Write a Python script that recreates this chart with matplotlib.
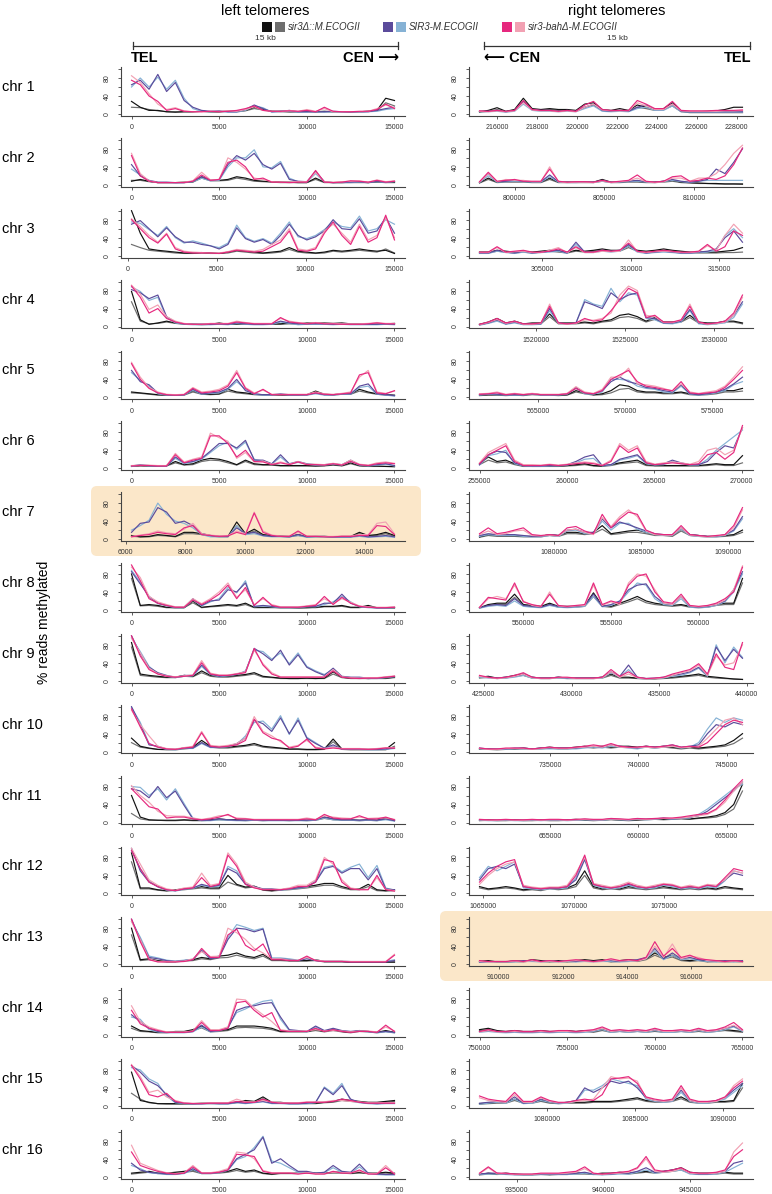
import matplotlib
matplotlib.use('Agg')
import matplotlib.pyplot as plt
from matplotlib.patches import FancyBboxPatch, Rectangle
from matplotlib.ticker import MultipleLocator
import numpy as np

# ---- data -------------------------------------------------------------
# each panel: [sir3D rep1, sir3D rep2, SIR3 rep1, SIR3 rep2, bahD rep1, bahD rep2]
chroms = ['chr %d' % i for i in range(1, 17)]

L_start = [0, 0, 200, 0, 0, 0, 6200, 0, 0, 0, 0, 0, 0, 0, 0, 0]
L_end = [15000] * 16
L_step = [5000, 5000, 5000, 5000, 5000, 5000, 2000, 5000, 5000, 5000, 5000, 5000, 5000, 5000, 5000, 5000]

R_start = [215100, 798050, 301450, 1516800, 561650, 255000, 1075700, 547500,
           424750, 731000, 651000, 1064800, 909400, 750000, 1076150, 932850]
R_end = [228300, 812700, 316300, 1531600, 576750, 270050, 1090800, 562500,
         439750, 745900, 665900, 1079300, 917600, 765000, 1091100, 948000]
R_step = [2000, 5000, 5000, 5000, 5000, 5000, 5000, 5000, 5000, 5000, 5000, 5000, 2000, 5000, 5000, 5000]

L1 = [[28, 15, 8, 8, 5, 4, 5, 5, 6, 5, 5, 6, 6, 8, 15, 10, 6, 6, 5, 5, 6, 5, 6, 5, 5, 4, 5, 6, 8, 35, 30],
      [15, 14, 10, 7, 5, 5, 5, 5, 6, 5, 5, 6, 5, 7, 12, 9, 6, 5, 5, 5, 5, 5, 5, 5, 5, 4, 5, 6, 7, 25, 18],
      [65, 75, 55, 88, 50, 70, 30, 15, 8, 6, 7, 5, 5, 10, 20, 12, 5, 6, 8, 5, 5, 5, 5, 6, 5, 4, 5, 5, 8, 12, 15],
      [60, 80, 60, 82, 55, 75, 35, 12, 6, 5, 6, 4, 4, 8, 18, 14, 4, 5, 6, 4, 4, 5, 4, 5, 4, 4, 4, 5, 6, 10, 12],
      [75, 65, 40, 28, 8, 12, 6, 5, 5, 6, 5, 6, 8, 12, 18, 8, 6, 6, 7, 6, 8, 5, 15, 6, 5, 5, 6, 6, 10, 22, 12],
      [85, 70, 45, 22, 10, 14, 7, 5, 5, 6, 6, 7, 6, 10, 16, 8, 6, 5, 8, 6, 10, 6, 12, 5, 5, 5, 5, 6, 12, 20, 14]]
L2 = [[8, 12, 8, 5, 5, 5, 6, 7, 18, 10, 10, 12, 18, 15, 10, 8, 7, 6, 6, 5, 5, 15, 6, 5, 5, 6, 6, 5, 7, 6, 6],
      [10, 10, 7, 5, 5, 5, 5, 6, 15, 9, 9, 10, 15, 12, 8, 7, 6, 5, 5, 5, 5, 12, 5, 5, 5, 5, 5, 5, 6, 5, 5],
      [45, 20, 10, 6, 6, 5, 5, 8, 18, 10, 12, 45, 65, 55, 70, 45, 35, 48, 12, 8, 7, 30, 7, 5, 6, 6, 7, 5, 8, 6, 8],
      [35, 22, 8, 5, 5, 4, 5, 7, 15, 9, 10, 40, 60, 60, 78, 40, 38, 52, 15, 7, 6, 25, 6, 5, 5, 5, 6, 5, 7, 5, 7],
      [65, 20, 8, 5, 5, 5, 5, 8, 22, 10, 12, 50, 55, 40, 12, 15, 6, 6, 5, 6, 6, 32, 6, 5, 6, 9, 8, 6, 10, 6, 8],
      [70, 25, 9, 5, 5, 5, 6, 9, 28, 11, 12, 60, 50, 35, 15, 12, 7, 6, 6, 7, 7, 28, 7, 6, 7, 8, 9, 6, 11, 7, 9]]
L3 = [[100, 50, 15, 12, 10, 8, 6, 6, 7, 6, 5, 8, 12, 10, 8, 6, 8, 10, 18, 10, 8, 6, 8, 12, 10, 12, 15, 12, 10, 12, 5],
      [25, 18, 12, 10, 8, 6, 5, 5, 6, 5, 5, 6, 10, 8, 6, 5, 6, 8, 14, 8, 6, 5, 6, 10, 8, 10, 12, 10, 8, 15, 6],
      [70, 78, 60, 42, 62, 42, 30, 30, 25, 22, 15, 25, 62, 38, 30, 36, 25, 45, 70, 45, 35, 42, 55, 80, 60, 58, 82, 50, 55, 85, 50],
      [75, 72, 58, 45, 65, 40, 28, 33, 28, 22, 18, 28, 68, 40, 32, 38, 28, 50, 75, 42, 38, 45, 58, 75, 65, 62, 88, 55, 60, 80, 70],
      [80, 60, 40, 28, 48, 15, 8, 6, 6, 6, 5, 8, 12, 10, 8, 10, 20, 30, 55, 12, 10, 15, 50, 75, 45, 25, 65, 30, 40, 90, 35],
      [82, 65, 45, 30, 50, 18, 10, 8, 7, 6, 6, 9, 14, 12, 10, 14, 25, 35, 60, 15, 12, 18, 55, 70, 50, 30, 70, 35, 45, 85, 40]]
L4 = [[78, 15, 5, 8, 12, 8, 6, 5, 5, 5, 8, 5, 6, 6, 5, 5, 6, 6, 8, 6, 8, 8, 8, 7, 8, 6, 6, 5, 5, 6, 7],
      [55, 12, 6, 7, 10, 7, 5, 5, 4, 5, 6, 5, 5, 5, 5, 5, 5, 5, 6, 5, 6, 7, 6, 6, 6, 5, 5, 5, 5, 5, 6],
      [82, 75, 62, 70, 22, 10, 6, 5, 5, 5, 6, 5, 8, 6, 5, 5, 6, 12, 8, 6, 6, 6, 6, 5, 6, 5, 5, 5, 5, 6, 5],
      [88, 78, 58, 65, 20, 8, 5, 4, 4, 4, 5, 4, 7, 5, 4, 4, 5, 10, 7, 4, 5, 5, 5, 4, 5, 4, 4, 4, 4, 5, 4],
      [90, 65, 30, 40, 18, 10, 6, 5, 5, 6, 6, 6, 10, 8, 6, 6, 6, 20, 10, 8, 6, 8, 6, 6, 5, 5, 5, 6, 8, 6, 6],
      [92, 72, 38, 48, 22, 12, 7, 5, 5, 7, 7, 7, 12, 9, 7, 7, 7, 18, 12, 9, 7, 9, 7, 7, 6, 6, 6, 7, 9, 7, 7]]
L5 = [[12, 10, 8, 6, 5, 5, 6, 15, 8, 7, 8, 18, 12, 10, 7, 6, 6, 6, 5, 5, 6, 14, 7, 6, 8, 8, 18, 12, 8, 6, 5],
      [10, 9, 7, 5, 5, 5, 5, 12, 7, 6, 7, 14, 10, 8, 6, 5, 5, 5, 5, 5, 5, 10, 6, 5, 7, 7, 14, 10, 7, 5, 4],
      [60, 35, 28, 10, 6, 5, 6, 18, 8, 10, 12, 20, 40, 15, 8, 6, 6, 8, 6, 6, 6, 10, 6, 6, 8, 8, 25, 30, 8, 6, 4],
      [55, 38, 25, 8, 5, 5, 5, 16, 7, 9, 10, 18, 35, 18, 7, 5, 5, 7, 5, 5, 5, 8, 5, 5, 7, 7, 22, 25, 7, 5, 3],
      [75, 40, 20, 10, 6, 5, 6, 20, 10, 12, 15, 25, 55, 20, 8, 18, 6, 6, 6, 6, 6, 10, 7, 6, 8, 10, 50, 55, 10, 8, 15],
      [78, 45, 22, 12, 7, 6, 7, 22, 12, 14, 18, 28, 60, 22, 10, 16, 7, 7, 7, 7, 7, 12, 8, 7, 9, 12, 45, 60, 12, 9, 14]]
L6 = [[5, 6, 5, 5, 6, 15, 8, 10, 18, 22, 20, 15, 8, 18, 10, 8, 8, 6, 6, 6, 6, 5, 6, 8, 6, 12, 6, 5, 5, 4, 4],
      [4, 5, 5, 5, 5, 12, 7, 8, 15, 18, 17, 12, 7, 15, 8, 7, 7, 5, 5, 5, 5, 5, 5, 7, 5, 10, 5, 4, 4, 4, 3],
      [5, 8, 6, 5, 5, 25, 12, 15, 22, 38, 55, 55, 45, 62, 18, 18, 10, 30, 10, 15, 10, 8, 8, 10, 8, 18, 8, 6, 8, 10, 6],
      [4, 7, 5, 5, 5, 22, 10, 14, 20, 35, 50, 58, 42, 58, 20, 16, 9, 25, 9, 13, 9, 7, 7, 9, 7, 15, 7, 5, 7, 9, 5],
      [5, 6, 6, 5, 5, 30, 12, 18, 22, 72, 72, 55, 25, 40, 15, 14, 8, 12, 8, 14, 8, 8, 7, 10, 7, 15, 8, 6, 10, 12, 10],
      [6, 7, 7, 6, 6, 33, 14, 20, 25, 78, 68, 60, 22, 35, 14, 16, 9, 14, 9, 15, 9, 9, 8, 11, 8, 18, 9, 7, 12, 14, 11]]
L7 = [[8, 5, 6, 10, 8, 6, 15, 15, 12, 8, 6, 6, 38, 12, 22, 10, 8, 7, 6, 10, 6, 6, 6, 5, 6, 6, 15, 8, 10, 15, 8],
      [6, 5, 5, 8, 7, 5, 12, 12, 10, 7, 5, 5, 30, 10, 18, 8, 7, 6, 5, 8, 5, 5, 5, 4, 5, 5, 12, 7, 8, 12, 6],
      [15, 35, 38, 70, 60, 35, 40, 30, 12, 8, 6, 6, 25, 12, 15, 8, 6, 6, 5, 10, 5, 6, 6, 5, 5, 5, 8, 5, 6, 8, 5],
      [20, 30, 42, 80, 55, 40, 35, 25, 10, 5, 5, 5, 30, 10, 12, 7, 5, 5, 5, 8, 4, 5, 5, 4, 4, 4, 6, 4, 5, 6, 4],
      [5, 8, 10, 15, 12, 10, 25, 30, 10, 8, 6, 7, 15, 10, 58, 15, 8, 6, 6, 18, 6, 6, 5, 5, 6, 6, 8, 8, 30, 28, 10],
      [6, 9, 12, 18, 14, 12, 22, 35, 12, 9, 7, 8, 18, 12, 60, 18, 9, 7, 7, 15, 7, 7, 6, 6, 7, 7, 10, 10, 35, 38, 12]]
L8 = [[80, 10, 12, 10, 6, 5, 5, 20, 6, 8, 10, 12, 10, 15, 6, 6, 6, 5, 5, 5, 5, 6, 8, 8, 10, 6, 6, 10, 5, 5, 5],
      [70, 9, 10, 8, 5, 5, 5, 16, 5, 7, 8, 10, 8, 12, 5, 5, 5, 5, 5, 4, 5, 5, 7, 7, 8, 5, 5, 8, 4, 4, 4],
      [85, 58, 30, 15, 10, 6, 6, 25, 10, 20, 22, 45, 40, 60, 8, 10, 8, 6, 6, 6, 8, 8, 15, 15, 35, 15, 8, 6, 5, 5, 6],
      [88, 62, 28, 14, 9, 5, 5, 22, 9, 18, 25, 50, 38, 65, 7, 9, 7, 5, 5, 5, 7, 7, 12, 18, 30, 18, 7, 5, 4, 4, 5],
      [100, 65, 25, 15, 10, 6, 6, 22, 12, 22, 35, 55, 25, 50, 10, 28, 10, 6, 6, 6, 8, 10, 30, 12, 28, 15, 8, 6, 5, 5, 6],
      [95, 72, 30, 18, 12, 7, 7, 25, 14, 25, 40, 60, 28, 45, 12, 25, 12, 7, 7, 7, 9, 12, 25, 14, 25, 17, 9, 7, 6, 6, 7]]
L9 = [[85, 15, 12, 10, 8, 8, 12, 10, 22, 12, 10, 10, 12, 14, 18, 10, 8, 6, 5, 5, 6, 5, 6, 20, 8, 6, 6, 5, 6, 6, 8],
      [75, 12, 10, 8, 7, 7, 10, 9, 18, 10, 8, 8, 10, 12, 15, 8, 7, 5, 5, 5, 5, 5, 5, 15, 7, 5, 5, 5, 5, 5, 7],
      [100, 60, 30, 18, 12, 8, 12, 12, 35, 15, 10, 12, 15, 20, 72, 60, 45, 68, 35, 58, 30, 20, 12, 28, 10, 8, 8, 6, 6, 8, 10],
      [95, 65, 32, 16, 10, 7, 10, 11, 32, 14, 9, 11, 14, 22, 68, 65, 48, 62, 38, 62, 32, 22, 14, 25, 9, 7, 7, 5, 5, 7, 9],
      [100, 55, 25, 15, 10, 8, 10, 12, 40, 15, 12, 12, 15, 18, 72, 35, 15, 8, 8, 8, 8, 8, 8, 22, 8, 6, 5, 6, 6, 8, 10],
      [95, 62, 28, 16, 11, 9, 11, 13, 45, 17, 13, 13, 16, 20, 68, 38, 18, 9, 9, 9, 9, 9, 9, 25, 9, 7, 6, 7, 7, 9, 11]]
L10 = [[30, 12, 8, 5, 5, 5, 8, 10, 25, 12, 10, 10, 12, 14, 18, 12, 10, 8, 6, 6, 5, 5, 6, 28, 6, 5, 5, 5, 5, 5, 20],
       [20, 10, 7, 5, 4, 4, 6, 8, 20, 10, 8, 8, 10, 12, 15, 10, 8, 7, 5, 5, 4, 4, 5, 22, 5, 4, 4, 4, 4, 4, 12],
       [100, 60, 15, 12, 6, 5, 8, 8, 20, 10, 10, 12, 18, 30, 70, 62, 45, 75, 40, 70, 30, 18, 8, 15, 6, 6, 6, 5, 5, 6, 8],
       [98, 65, 18, 10, 5, 4, 7, 7, 18, 9, 9, 11, 16, 35, 65, 68, 50, 80, 38, 75, 32, 20, 7, 12, 5, 5, 5, 4, 4, 5, 7],
       [95, 55, 18, 10, 6, 5, 8, 10, 42, 12, 10, 12, 15, 25, 72, 42, 30, 25, 8, 12, 28, 8, 6, 8, 6, 6, 6, 5, 6, 8, 8],
       [92, 60, 35, 12, 7, 6, 9, 12, 45, 14, 12, 14, 18, 30, 78, 45, 35, 22, 10, 14, 25, 10, 7, 10, 7, 7, 7, 6, 7, 9, 9]]
L11 = [[60, 12, 6, 5, 5, 5, 6, 5, 5, 6, 8, 6, 6, 5, 6, 5, 6, 6, 5, 6, 5, 6, 12, 8, 6, 6, 5, 6, 5, 10, 5],
       [20, 8, 5, 5, 4, 4, 5, 4, 4, 5, 6, 5, 5, 4, 5, 4, 5, 5, 4, 5, 4, 5, 9, 6, 5, 5, 4, 5, 4, 8, 4],
       [75, 70, 55, 80, 55, 70, 38, 8, 5, 5, 8, 6, 5, 5, 6, 5, 5, 5, 5, 5, 5, 6, 12, 8, 6, 6, 5, 6, 5, 8, 4],
       [80, 78, 60, 75, 50, 75, 42, 10, 4, 4, 6, 5, 4, 4, 5, 4, 4, 4, 4, 4, 4, 5, 10, 6, 5, 5, 4, 5, 4, 6, 3],
       [75, 55, 35, 30, 10, 12, 12, 8, 6, 8, 12, 18, 8, 8, 6, 6, 6, 6, 6, 6, 8, 6, 18, 10, 8, 8, 15, 8, 8, 12, 6],
       [82, 60, 45, 25, 15, 14, 14, 10, 7, 10, 15, 16, 10, 9, 7, 7, 7, 7, 7, 7, 10, 7, 15, 12, 10, 9, 12, 9, 10, 10, 7]]
L12 = [[90, 12, 12, 8, 6, 8, 10, 12, 15, 12, 12, 40, 20, 14, 16, 8, 6, 8, 10, 12, 15, 18, 22, 22, 15, 10, 10, 20, 8, 6, 8],
       [70, 10, 10, 7, 5, 7, 8, 10, 12, 10, 10, 25, 18, 12, 14, 7, 5, 7, 8, 10, 12, 15, 18, 18, 12, 8, 8, 15, 6, 5, 6],
       [100, 50, 25, 15, 8, 6, 10, 12, 20, 15, 18, 55, 45, 20, 15, 10, 10, 8, 10, 12, 15, 25, 55, 60, 45, 55, 55, 30, 55, 10, 8],
       [95, 55, 28, 14, 7, 5, 9, 11, 18, 14, 16, 60, 50, 22, 14, 9, 9, 7, 9, 11, 14, 28, 58, 62, 48, 58, 65, 35, 62, 12, 7],
       [95, 55, 25, 15, 8, 6, 10, 12, 35, 15, 20, 85, 60, 20, 12, 8, 8, 8, 10, 15, 15, 25, 75, 70, 25, 10, 8, 8, 40, 8, 5],
       [100, 65, 30, 18, 10, 7, 12, 14, 45, 18, 22, 90, 65, 25, 14, 9, 9, 9, 12, 18, 18, 30, 80, 65, 30, 12, 9, 9, 35, 9, 6]]
L13 = [[80, 10, 12, 8, 6, 6, 8, 10, 15, 12, 18, 20, 25, 18, 15, 22, 10, 10, 8, 8, 8, 10, 6, 6, 6, 5, 5, 5, 5, 5, 5],
       [65, 8, 10, 7, 5, 5, 7, 8, 12, 10, 14, 15, 20, 15, 12, 18, 8, 8, 7, 7, 7, 8, 5, 5, 5, 4, 4, 4, 4, 4, 4],
       [100, 55, 15, 12, 8, 6, 8, 10, 30, 12, 15, 55, 80, 78, 72, 78, 12, 12, 10, 8, 12, 8, 6, 6, 6, 5, 5, 5, 5, 5, 8],
       [95, 60, 18, 14, 9, 7, 9, 11, 32, 14, 18, 60, 88, 82, 75, 80, 14, 14, 12, 9, 14, 9, 7, 7, 7, 6, 6, 6, 6, 6, 10],
       [100, 50, 10, 5, 5, 5, 6, 10, 35, 15, 15, 65, 78, 42, 30, 45, 10, 10, 8, 8, 18, 8, 6, 6, 6, 5, 5, 5, 5, 5, 20],
       [95, 55, 12, 6, 6, 6, 7, 12, 28, 17, 18, 80, 70, 55, 35, 25, 12, 12, 9, 9, 15, 9, 7, 7, 7, 6, 6, 6, 6, 6, 22]]
L14 = [[20, 10, 8, 6, 6, 8, 8, 12, 20, 8, 10, 12, 20, 20, 20, 18, 15, 8, 8, 8, 8, 12, 8, 12, 8, 6, 10, 8, 6, 10, 6],
       [15, 8, 7, 5, 5, 7, 7, 10, 16, 7, 8, 10, 16, 17, 16, 15, 12, 7, 7, 7, 7, 10, 7, 10, 7, 5, 8, 7, 5, 8, 5],
       [45, 30, 15, 8, 6, 6, 6, 8, 22, 8, 10, 15, 55, 62, 65, 70, 72, 40, 12, 10, 8, 20, 10, 15, 10, 8, 10, 8, 6, 8, 6],
       [40, 35, 12, 7, 5, 5, 5, 7, 18, 7, 9, 18, 50, 58, 68, 75, 78, 35, 10, 9, 7, 18, 9, 12, 9, 7, 9, 7, 5, 7, 5],
       [55, 25, 15, 10, 6, 6, 6, 8, 28, 10, 10, 15, 72, 75, 55, 40, 50, 10, 8, 8, 8, 15, 8, 12, 8, 6, 8, 8, 6, 22, 8],
       [65, 30, 18, 12, 7, 7, 7, 9, 32, 12, 12, 18, 80, 78, 60, 45, 30, 12, 9, 9, 9, 12, 9, 10, 9, 7, 9, 9, 7, 18, 9]]
L15 = [[75, 12, 8, 5, 5, 5, 5, 5, 6, 6, 6, 6, 8, 12, 10, 20, 8, 8, 6, 6, 6, 6, 8, 10, 15, 12, 10, 8, 8, 10, 12],
       [28, 15, 7, 5, 4, 4, 4, 4, 5, 5, 5, 5, 7, 10, 8, 16, 7, 7, 5, 5, 5, 5, 7, 8, 12, 10, 8, 7, 7, 8, 10],
       [90, 75, 55, 45, 25, 8, 6, 5, 5, 6, 5, 5, 8, 6, 8, 10, 6, 6, 5, 5, 6, 8, 40, 25, 45, 15, 8, 6, 5, 6, 6],
       [85, 80, 60, 50, 22, 7, 5, 4, 4, 5, 4, 4, 7, 5, 7, 9, 5, 5, 4, 4, 5, 7, 42, 28, 50, 12, 7, 5, 4, 5, 5],
       [90, 60, 25, 20, 28, 10, 6, 5, 5, 6, 6, 6, 10, 8, 8, 15, 8, 6, 6, 6, 8, 8, 8, 10, 15, 12, 8, 6, 6, 6, 6],
       [92, 65, 30, 35, 20, 12, 7, 6, 6, 7, 7, 7, 15, 9, 9, 12, 9, 7, 7, 7, 9, 9, 9, 12, 12, 10, 9, 7, 7, 7, 7]]
L16 = [[8, 10, 12, 8, 8, 10, 12, 15, 8, 8, 10, 12, 18, 12, 15, 8, 6, 8, 8, 8, 10, 8, 8, 10, 10, 8, 10, 8, 8, 10, 8],
       [6, 8, 10, 7, 7, 8, 10, 12, 7, 7, 8, 10, 14, 10, 12, 7, 5, 7, 7, 7, 8, 7, 7, 8, 8, 7, 8, 7, 7, 8, 7],
       [30, 15, 10, 8, 6, 6, 8, 18, 8, 8, 10, 15, 40, 50, 60, 88, 30, 40, 25, 12, 12, 8, 10, 25, 12, 10, 28, 8, 6, 5, 5],
       [25, 18, 9, 7, 5, 5, 7, 16, 7, 7, 9, 14, 38, 45, 65, 90, 35, 30, 20, 10, 10, 7, 9, 20, 10, 8, 22, 7, 5, 4, 4],
       [55, 25, 18, 12, 8, 6, 8, 22, 8, 8, 10, 15, 50, 48, 45, 12, 8, 8, 8, 6, 8, 6, 6, 12, 8, 8, 15, 6, 6, 20, 6],
       [70, 30, 22, 14, 9, 7, 9, 25, 9, 9, 12, 18, 55, 52, 40, 14, 9, 9, 9, 7, 9, 7, 7, 10, 9, 9, 12, 7, 7, 25, 7]]

R1 = [[5, 8, 14, 6, 10, 35, 12, 10, 12, 10, 10, 8, 22, 25, 10, 8, 12, 8, 20, 15, 10, 12, 25, 6, 5, 5, 6, 7, 10, 15, 15],
      [4, 6, 10, 5, 8, 28, 10, 8, 10, 8, 8, 6, 15, 20, 8, 6, 8, 6, 15, 12, 8, 10, 18, 5, 3, 3, 3, 3, 3, 3, 3],
      [6, 6, 8, 5, 8, 28, 10, 8, 8, 6, 8, 6, 15, 22, 8, 6, 8, 6, 15, 20, 10, 10, 22, 6, 5, 5, 5, 5, 5, 5, 5],
      [5, 5, 6, 4, 6, 22, 8, 6, 6, 5, 6, 5, 12, 18, 6, 5, 6, 5, 12, 15, 8, 8, 18, 5, 4, 4, 4, 4, 4, 4, 4],
      [7, 6, 8, 6, 8, 30, 10, 8, 8, 6, 8, 6, 20, 28, 10, 8, 8, 8, 30, 22, 12, 12, 28, 8, 7, 7, 7, 8, 8, 8, 9],
      [6, 5, 7, 5, 7, 25, 9, 7, 7, 5, 7, 5, 15, 22, 9, 7, 7, 7, 25, 18, 10, 10, 22, 7, 6, 6, 6, 6, 7, 7, 8]]
R2 = [[5, 15, 6, 8, 8, 8, 6, 6, 15, 6, 6, 6, 6, 6, 12, 6, 6, 8, 8, 6, 6, 8, 10, 6, 5, 4, 3, 3, 2, 2, 2],
      [4, 12, 5, 6, 6, 6, 5, 5, 12, 5, 5, 5, 5, 5, 8, 5, 5, 6, 6, 5, 5, 6, 8, 5, 4, 3, 3, 2, 2, 2, 1],
      [6, 25, 7, 8, 10, 8, 7, 7, 22, 7, 6, 6, 7, 6, 10, 6, 7, 8, 10, 7, 6, 8, 12, 8, 6, 8, 12, 35, 25, 50, 80],
      [5, 20, 6, 7, 8, 7, 6, 6, 18, 6, 5, 5, 6, 5, 8, 5, 6, 7, 8, 6, 5, 7, 10, 7, 5, 8, 10, 10, 10, 10, 10],
      [7, 28, 8, 10, 12, 8, 8, 8, 35, 8, 6, 7, 7, 6, 10, 6, 8, 10, 22, 8, 6, 8, 18, 20, 8, 10, 15, 12, 20, 45, 82],
      [6, 25, 7, 12, 10, 10, 7, 7, 40, 7, 5, 6, 6, 5, 9, 5, 7, 9, 15, 7, 5, 7, 15, 15, 8, 15, 15, 25, 45, 70, 88]]
R3 = [[8, 8, 12, 10, 8, 10, 8, 10, 12, 10, 8, 12, 10, 12, 15, 12, 12, 22, 12, 10, 12, 15, 12, 10, 8, 8, 8, 8, 10, 12, 18],
      [6, 6, 10, 8, 6, 8, 6, 8, 10, 8, 6, 10, 8, 10, 12, 10, 10, 18, 10, 8, 10, 12, 10, 8, 6, 6, 6, 6, 7, 7, 8],
      [6, 6, 12, 8, 6, 10, 6, 8, 10, 12, 6, 30, 8, 8, 12, 10, 12, 25, 10, 6, 8, 10, 8, 6, 6, 8, 10, 15, 40, 55, 30],
      [5, 5, 10, 7, 5, 8, 5, 7, 8, 10, 5, 25, 7, 7, 10, 8, 10, 22, 8, 5, 7, 8, 7, 5, 5, 7, 8, 12, 45, 60, 40],
      [8, 8, 20, 8, 10, 12, 8, 8, 10, 15, 8, 20, 8, 8, 12, 10, 12, 28, 10, 8, 10, 12, 10, 8, 8, 10, 25, 10, 20, 55, 45],
      [7, 7, 18, 7, 9, 10, 7, 7, 12, 18, 7, 18, 7, 7, 10, 9, 10, 35, 9, 7, 9, 10, 9, 7, 7, 9, 22, 12, 45, 70, 50]]
R4 = [[5, 10, 18, 8, 12, 6, 8, 8, 28, 8, 8, 8, 10, 8, 12, 15, 25, 28, 22, 12, 20, 10, 10, 12, 25, 10, 8, 8, 12, 12, 8],
      [4, 8, 14, 6, 10, 5, 6, 6, 22, 6, 6, 6, 8, 6, 10, 12, 20, 22, 18, 10, 16, 8, 8, 10, 20, 8, 6, 6, 10, 10, 6],
      [4, 8, 15, 6, 10, 5, 5, 6, 40, 8, 6, 8, 55, 48, 40, 75, 60, 70, 75, 20, 18, 8, 8, 12, 38, 8, 5, 8, 10, 25, 55],
      [3, 7, 12, 5, 8, 4, 4, 5, 35, 7, 5, 7, 60, 50, 45, 85, 55, 75, 70, 18, 15, 7, 6, 10, 35, 6, 4, 6, 8, 20, 50],
      [5, 10, 18, 8, 12, 6, 6, 8, 45, 8, 6, 8, 18, 12, 15, 35, 60, 85, 75, 20, 25, 10, 10, 15, 45, 10, 6, 8, 12, 30, 70],
      [4, 9, 16, 7, 11, 5, 5, 7, 50, 7, 5, 7, 15, 14, 18, 30, 70, 90, 80, 25, 22, 9, 9, 14, 50, 9, 5, 7, 10, 25, 65]]
R5 = [[5, 6, 6, 5, 6, 5, 8, 6, 6, 5, 6, 15, 10, 6, 8, 15, 28, 25, 15, 12, 12, 10, 10, 12, 8, 6, 8, 10, 15, 15, 20],
      [4, 5, 5, 4, 5, 4, 6, 5, 5, 4, 5, 12, 8, 5, 6, 10, 18, 20, 12, 10, 10, 8, 8, 10, 6, 5, 6, 8, 12, 12, 14],
      [6, 8, 7, 6, 6, 6, 8, 6, 6, 6, 8, 22, 10, 8, 15, 35, 45, 35, 30, 22, 20, 15, 12, 28, 8, 6, 8, 12, 18, 30, 45],
      [5, 7, 6, 5, 5, 5, 7, 5, 5, 5, 7, 20, 8, 7, 12, 40, 40, 38, 25, 20, 18, 12, 10, 25, 7, 5, 7, 10, 15, 28, 35],
      [7, 8, 10, 6, 8, 6, 8, 6, 6, 6, 8, 20, 10, 8, 15, 40, 50, 60, 35, 25, 22, 18, 15, 35, 10, 8, 10, 12, 22, 40, 60],
      [8, 9, 12, 7, 9, 7, 9, 7, 7, 7, 9, 24, 12, 9, 18, 45, 45, 65, 30, 28, 25, 20, 14, 30, 12, 9, 12, 15, 25, 45, 68]]
R6 = [[10, 25, 15, 18, 10, 5, 5, 5, 5, 5, 6, 8, 10, 6, 5, 8, 12, 15, 18, 8, 6, 6, 6, 6, 6, 6, 8, 10, 8, 8, 28],
      [8, 18, 12, 14, 8, 4, 4, 4, 4, 4, 5, 6, 8, 5, 4, 6, 10, 12, 14, 6, 5, 5, 5, 5, 5, 5, 6, 8, 6, 6, 12],
      [8, 30, 38, 35, 12, 6, 5, 5, 6, 6, 8, 15, 25, 30, 6, 8, 20, 25, 30, 12, 8, 10, 18, 12, 8, 8, 15, 35, 50, 45, 90],
      [7, 28, 32, 40, 10, 5, 4, 4, 5, 5, 7, 12, 20, 22, 5, 7, 18, 22, 28, 10, 7, 8, 15, 10, 7, 7, 20, 40, 55, 70, 85],
      [10, 30, 40, 50, 15, 6, 6, 6, 8, 6, 8, 10, 12, 10, 6, 15, 50, 35, 45, 12, 8, 10, 12, 10, 8, 10, 30, 35, 20, 35, 95],
      [12, 35, 45, 55, 18, 8, 8, 7, 9, 7, 9, 12, 14, 12, 7, 18, 55, 40, 50, 15, 9, 12, 14, 12, 9, 15, 40, 45, 30, 40, 90]]
R7 = [[5, 10, 8, 8, 8, 6, 6, 6, 10, 8, 15, 15, 12, 15, 30, 12, 15, 18, 20, 15, 10, 10, 8, 22, 10, 8, 6, 6, 8, 10, 20],
      [4, 8, 6, 6, 6, 5, 5, 5, 8, 6, 12, 12, 10, 12, 22, 10, 12, 15, 15, 12, 8, 8, 6, 18, 8, 6, 5, 5, 6, 8, 15],
      [8, 12, 10, 10, 10, 8, 6, 6, 10, 8, 20, 22, 15, 15, 45, 25, 38, 32, 25, 18, 12, 10, 10, 25, 10, 8, 6, 6, 10, 20, 50],
      [6, 10, 8, 8, 8, 6, 5, 5, 8, 6, 18, 20, 12, 12, 40, 20, 35, 35, 22, 15, 10, 8, 8, 22, 8, 6, 5, 5, 8, 18, 45],
      [12, 25, 12, 15, 20, 25, 10, 8, 10, 8, 25, 28, 18, 12, 55, 25, 45, 60, 55, 20, 12, 10, 10, 30, 10, 8, 6, 8, 10, 30, 70],
      [10, 18, 10, 12, 18, 20, 8, 7, 9, 7, 20, 22, 15, 10, 48, 28, 50, 65, 50, 18, 10, 9, 9, 25, 9, 7, 5, 7, 9, 25, 65]]
R8 = [[5, 12, 15, 15, 35, 12, 10, 8, 15, 8, 8, 8, 10, 38, 10, 8, 15, 22, 30, 20, 15, 12, 10, 12, 8, 6, 8, 12, 15, 15, 70],
      [4, 10, 12, 12, 28, 10, 8, 7, 12, 6, 6, 6, 8, 30, 8, 6, 12, 18, 25, 16, 12, 10, 8, 10, 6, 5, 6, 10, 12, 12, 60],
      [5, 10, 12, 10, 25, 10, 8, 6, 12, 8, 6, 8, 10, 35, 8, 12, 20, 45, 55, 58, 30, 15, 12, 30, 8, 6, 8, 12, 20, 45, 85],
      [4, 8, 10, 8, 20, 8, 6, 5, 10, 6, 5, 6, 8, 30, 7, 10, 18, 40, 60, 55, 25, 12, 10, 25, 6, 5, 6, 10, 18, 40, 80],
      [6, 28, 25, 22, 60, 18, 12, 8, 35, 10, 8, 10, 12, 60, 12, 20, 15, 55, 75, 80, 40, 18, 15, 35, 10, 8, 10, 15, 25, 40, 95],
      [5, 25, 30, 25, 55, 20, 10, 7, 40, 9, 7, 9, 10, 55, 10, 18, 12, 60, 80, 75, 45, 15, 12, 30, 9, 7, 9, 12, 22, 45, 98]]
R9 = [[8, 10, 6, 8, 12, 15, 8, 6, 6, 8, 6, 6, 6, 6, 8, 15, 8, 8, 6, 5, 5, 6, 8, 10, 12, 15, 10, 8, 6, 4, 3],
      [6, 8, 5, 6, 10, 12, 6, 5, 5, 6, 5, 5, 5, 5, 6, 12, 6, 6, 5, 4, 4, 5, 6, 8, 10, 12, 8, 6, 5, 4, 3],
      [10, 8, 6, 8, 10, 15, 8, 6, 6, 8, 6, 6, 6, 6, 8, 20, 10, 35, 8, 5, 6, 8, 12, 15, 20, 30, 12, 75, 45, 70, 50],
      [8, 6, 5, 6, 8, 12, 6, 5, 5, 6, 5, 5, 5, 5, 6, 18, 8, 25, 6, 4, 5, 6, 10, 12, 18, 28, 10, 80, 40, 75, 52],
      [12, 8, 6, 8, 12, 18, 8, 6, 6, 8, 8, 6, 6, 6, 8, 25, 10, 20, 8, 5, 6, 8, 15, 20, 25, 38, 15, 60, 30, 25, 85],
      [10, 7, 5, 7, 10, 15, 7, 5, 5, 7, 7, 5, 5, 5, 7, 20, 8, 15, 7, 4, 5, 7, 12, 18, 22, 35, 12, 55, 35, 40, 80]]
R10 = [[6, 6, 5, 6, 6, 8, 6, 8, 10, 8, 8, 10, 12, 10, 12, 10, 12, 12, 10, 12, 10, 12, 10, 8, 10, 8, 10, 12, 15, 25, 40],
       [5, 5, 4, 5, 5, 6, 5, 6, 8, 6, 6, 8, 10, 8, 10, 8, 10, 10, 8, 10, 8, 10, 8, 6, 8, 6, 8, 10, 12, 18, 30],
       [8, 6, 6, 6, 8, 8, 6, 8, 8, 8, 8, 8, 10, 12, 10, 15, 12, 10, 8, 12, 10, 12, 15, 10, 12, 15, 40, 60, 55, 65, 60],
       [6, 5, 5, 5, 6, 6, 5, 6, 6, 6, 6, 6, 8, 10, 8, 12, 10, 8, 6, 10, 8, 10, 12, 8, 10, 20, 50, 75, 65, 75, 70],
       [8, 6, 6, 8, 8, 8, 6, 8, 10, 8, 8, 10, 12, 15, 12, 18, 12, 10, 10, 12, 10, 12, 15, 10, 12, 10, 20, 40, 60, 70, 65],
       [7, 5, 5, 7, 7, 7, 5, 7, 9, 7, 7, 9, 10, 12, 10, 15, 10, 9, 9, 10, 9, 10, 12, 9, 10, 12, 30, 50, 70, 75, 60]]
R11 = [[5, 6, 5, 5, 6, 5, 5, 6, 5, 5, 6, 7, 6, 5, 6, 7, 6, 5, 6, 7, 8, 7, 8, 9, 8, 10, 12, 15, 22, 40, 85],
       [4, 5, 4, 4, 5, 4, 4, 5, 4, 4, 5, 6, 5, 4, 5, 6, 5, 4, 5, 6, 7, 6, 7, 8, 7, 9, 10, 12, 18, 30, 70],
       [6, 5, 5, 6, 5, 5, 6, 5, 6, 6, 5, 6, 7, 6, 6, 8, 7, 6, 8, 7, 8, 10, 8, 10, 12, 15, 25, 40, 55, 70, 90],
       [5, 4, 4, 5, 4, 4, 5, 4, 5, 5, 4, 5, 6, 5, 5, 7, 6, 5, 7, 6, 7, 9, 7, 9, 10, 18, 30, 45, 60, 75, 85],
       [7, 6, 6, 7, 6, 6, 7, 6, 7, 7, 6, 7, 8, 7, 7, 9, 8, 7, 9, 8, 9, 10, 10, 12, 15, 18, 20, 30, 50, 75, 95],
       [6, 5, 5, 6, 5, 5, 6, 5, 6, 6, 5, 6, 7, 6, 6, 8, 7, 6, 8, 7, 8, 9, 9, 10, 12, 15, 18, 28, 45, 70, 90]]
R12 = [[15, 10, 12, 15, 12, 8, 10, 8, 12, 10, 12, 20, 50, 15, 10, 12, 10, 15, 12, 10, 12, 15, 12, 10, 12, 10, 12, 10, 15, 12, 10],
       [12, 8, 10, 12, 10, 6, 8, 6, 10, 8, 10, 15, 40, 12, 8, 10, 8, 12, 10, 8, 10, 12, 10, 8, 10, 8, 10, 8, 12, 10, 8],
       [30, 55, 60, 55, 65, 15, 12, 10, 12, 12, 15, 30, 75, 20, 15, 12, 15, 20, 15, 12, 15, 20, 18, 12, 15, 12, 18, 15, 30, 45, 40],
       [35, 60, 50, 60, 70, 12, 10, 8, 10, 10, 12, 35, 80, 18, 12, 10, 12, 18, 12, 10, 12, 18, 15, 10, 12, 10, 15, 12, 28, 50, 45],
       [25, 45, 60, 70, 75, 15, 12, 10, 12, 12, 15, 40, 85, 20, 15, 12, 15, 22, 15, 12, 15, 20, 18, 12, 15, 12, 18, 15, 35, 55, 50],
       [20, 40, 55, 65, 70, 18, 14, 12, 14, 14, 18, 45, 80, 22, 18, 14, 18, 25, 18, 14, 18, 22, 20, 14, 18, 14, 20, 18, 30, 50, 45]]
R13 = [[6, 8, 5, 5, 8, 6, 10, 8, 6, 8, 6, 8, 10, 8, 10, 6, 8, 10, 8, 12, 25, 15, 20, 10, 8, 10, 6, 8, 6, 8, 6],
       [5, 6, 4, 4, 6, 5, 8, 6, 5, 6, 5, 6, 8, 6, 8, 5, 6, 8, 6, 10, 20, 12, 16, 8, 6, 8, 5, 6, 5, 6, 5],
       [5, 6, 6, 6, 6, 8, 8, 6, 8, 6, 8, 6, 8, 6, 8, 8, 6, 8, 10, 15, 35, 12, 25, 12, 15, 10, 8, 6, 8, 6, 8],
       [4, 5, 5, 5, 5, 6, 6, 5, 6, 5, 6, 5, 6, 5, 6, 6, 5, 6, 8, 12, 30, 10, 20, 10, 12, 8, 6, 5, 6, 5, 6],
       [8, 6, 6, 6, 8, 6, 10, 6, 8, 6, 8, 10, 8, 6, 8, 12, 8, 10, 8, 15, 50, 18, 35, 15, 20, 12, 10, 8, 6, 8, 6],
       [6, 5, 5, 5, 7, 5, 8, 5, 7, 5, 7, 8, 7, 5, 7, 10, 7, 8, 7, 12, 40, 15, 45, 12, 18, 15, 8, 7, 5, 7, 5]]
R14 = [[12, 15, 10, 8, 10, 8, 8, 10, 8, 8, 10, 8, 10, 8, 12, 8, 10, 8, 10, 8, 10, 8, 8, 10, 8, 10, 8, 10, 12, 10, 8],
       [10, 12, 8, 6, 8, 6, 6, 8, 6, 6, 8, 6, 8, 6, 10, 6, 8, 6, 8, 6, 8, 6, 6, 8, 6, 8, 6, 8, 10, 8, 6],
       [8, 10, 8, 6, 8, 6, 6, 8, 6, 8, 8, 6, 8, 10, 15, 8, 10, 8, 10, 8, 12, 8, 8, 10, 8, 12, 8, 10, 15, 20, 10],
       [6, 8, 6, 5, 6, 5, 5, 6, 5, 6, 6, 5, 6, 8, 12, 6, 8, 6, 8, 6, 10, 6, 6, 8, 6, 10, 6, 8, 12, 18, 8],
       [8, 12, 8, 8, 10, 8, 8, 10, 8, 10, 10, 8, 10, 12, 18, 10, 12, 10, 12, 10, 15, 10, 10, 12, 10, 15, 10, 12, 18, 28, 12],
       [7, 10, 7, 7, 8, 7, 7, 8, 7, 8, 8, 7, 8, 10, 15, 8, 10, 8, 10, 8, 12, 8, 8, 10, 8, 12, 8, 10, 15, 22, 10]]
R15 = [[5, 6, 8, 8, 15, 8, 8, 12, 8, 6, 8, 8, 8, 10, 10, 10, 12, 15, 18, 12, 10, 10, 12, 20, 10, 8, 8, 10, 10, 12, 50],
       [4, 5, 6, 6, 12, 6, 6, 10, 6, 5, 6, 6, 6, 8, 8, 8, 10, 12, 15, 10, 8, 8, 10, 16, 8, 6, 6, 8, 8, 10, 40],
       [6, 8, 10, 8, 20, 6, 8, 15, 10, 6, 8, 12, 40, 30, 40, 55, 50, 55, 40, 18, 12, 10, 12, 35, 12, 8, 8, 12, 18, 35, 50],
       [4, 6, 8, 6, 15, 5, 6, 12, 8, 5, 6, 10, 35, 35, 45, 60, 55, 50, 45, 15, 10, 8, 10, 30, 10, 6, 6, 10, 15, 30, 45],
       [22, 15, 12, 10, 30, 10, 10, 20, 12, 8, 8, 12, 15, 12, 25, 60, 62, 65, 50, 20, 15, 12, 15, 45, 15, 10, 10, 12, 20, 40, 55],
       [18, 12, 10, 8, 25, 8, 8, 18, 10, 7, 7, 10, 12, 15, 40, 65, 60, 62, 55, 18, 12, 10, 12, 40, 12, 8, 8, 10, 18, 45, 60]]
R16 = [[5, 8, 6, 8, 6, 5, 5, 6, 5, 6, 6, 8, 8, 6, 8, 8, 10, 8, 10, 12, 10, 12, 15, 20, 10, 8, 8, 8, 10, 8, 8],
       [4, 6, 5, 6, 5, 4, 4, 5, 4, 5, 5, 6, 6, 5, 6, 6, 8, 6, 8, 10, 8, 10, 12, 15, 8, 6, 6, 6, 8, 6, 6],
       [6, 8, 8, 6, 5, 5, 5, 6, 6, 6, 6, 8, 10, 6, 5, 6, 8, 8, 12, 20, 10, 12, 15, 18, 8, 6, 6, 8, 12, 30, 35],
       [5, 6, 6, 5, 4, 4, 4, 5, 5, 5, 5, 6, 8, 5, 4, 5, 6, 6, 10, 15, 8, 10, 12, 15, 6, 5, 5, 6, 10, 20, 30],
       [8, 22, 8, 8, 6, 6, 6, 8, 8, 8, 10, 12, 22, 8, 6, 8, 10, 12, 20, 45, 15, 12, 15, 20, 10, 8, 8, 10, 15, 45, 60],
       [7, 20, 7, 7, 5, 5, 5, 7, 7, 7, 8, 10, 18, 7, 5, 7, 8, 10, 18, 40, 12, 10, 12, 18, 8, 7, 7, 8, 12, 55, 75]]

left_panels = [L1, L2, L3, L4, L5, L6, L7, L8, L9, L10, L11, L12, L13, L14, L15, L16]
right_panels = [R1, R2, R3, R4, R5, R6, R7, R8, R9, R10, R11, R12, R13, R14, R15, R16]

labels = ['sir3\u0394::M.ECOGII', 'SIR3-M.ECOGII', 'sir3-bah\u0394-M.ECOGII']
colors = ['#111111', '#6e6e6e', '#5b4b9b', '#86b2d5', '#e6287e', '#f2a1b3']
draw_order = [1, 0, 3, 2, 5, 4]

W, H = 772, 1194
FONT = ['Liberation Sans', 'DejaVu Sans']


def fx(px):
    return px / W


def fy(py):
    return 1 - py / H


def draw_panel(ax, series, start, end, step):
    for k in draw_order:
        vals = series[k]
        x = np.linspace(start, end, len(vals))
        ax.plot(x, vals, color=colors[k], lw=0.85, solid_joinstyle='round')
    ax.set_xlim(start - 0.04 * (end - start), end + 0.04 * (end - start))
    ax.set_ylim(-4, 104)
    ax.set_facecolor('none')
    for s in ['top', 'right']:
        ax.spines[s].set_visible(False)
    for s in ['left', 'bottom']:
        ax.spines[s].set_color('#444444')
        ax.spines[s].set_linewidth(0.8)
    ax.xaxis.set_major_locator(MultipleLocator(step))
    ax.yaxis.set_major_locator(MultipleLocator(20))
    ax.set_yticklabels([])
    ax.xaxis.set_major_formatter(plt.FuncFormatter(lambda v, p: '%d' % v))
    ax.tick_params(axis='x', length=2, width=0.6, color='#444444', labelsize=5,
                   labelcolor='#333333', pad=4)
    ax.tick_params(axis='y', length=2, width=0.6, color='#444444', labelsize=5,
                   labelcolor='#333333', pad=2)
    for yv in (0, 40, 80):
        ax.text(-0.035, yv, str(yv), transform=ax.get_yaxis_transform(), rotation=90,
                ha='right', va='center', fontsize=5, color='#333333', family=FONT)


if __name__ == '__main__':
    plt.rcParams['font.family'] = FONT
    fig = plt.figure(figsize=(W / 100, H / 100), dpi=100)

    # highlighted panels, kept behind the axes
    for (x0, y0, x1, y1) in [(91, 486, 421, 556), (440, 911, 780, 981)]:
        box = FancyBboxPatch((x0 / 100, (H - y1) / 100), (x1 - x0) / 100, (y1 - y0) / 100,
                             boxstyle='round,pad=0,rounding_size=0.06',
                             transform=fig.dpi_scale_trans, facecolor='#fbe7c9',
                             edgecolor='none', zorder=-10)
        fig.patches.append(box)

    row_gap = 70.85
    ax_w = 284
    ax_h = 48.6
    for i in range(16):
        y0 = 114 + row_gap * i
        bottom = fy(y0 + 1.8)
        axl = fig.add_axes([fx(121), bottom, ax_w / W, ax_h / H])
        draw_panel(axl, left_panels[i], L_start[i], L_end[i], L_step[i])
        axr = fig.add_axes([fx(469), bottom, ax_w / W, ax_h / H])
        draw_panel(axr, right_panels[i], R_start[i], R_end[i], R_step[i])
        fig.text(fx(2), fy(y0 - 27), chroms[i], fontsize=10.5, ha='left', va='center')

    fig.text(fx(44), fy(622), '% reads methylated', rotation=90, fontsize=10,
             ha='center', va='center')

    # header
    fig.text(fx(265), fy(11), 'left telomeres', fontsize=10.5, ha='center', va='center')
    fig.text(fx(617), fy(11), 'right telomeres', fontsize=10.5, ha='center', va='center')

    legend_items = [(262, 288, 0), (383, 409, 1), (502, 528, 2)]
    for (sx, tx, g) in legend_items:
        for j in range(2):
            fig.patches.append(Rectangle((fx(sx + 12.5 * j), fy(32)), fx(10), 10 / H,
                                         transform=fig.transFigure,
                                         facecolor=colors[2 * g + j], edgecolor='none'))
        fig.text(fx(tx), fy(27), labels[g], fontsize=7, style='italic', color='#333333',
                 ha='left', va='center')

    for (bx0, bx1) in [(133, 398), (484, 750)]:
        fig.add_artist(plt.Line2D([fx(bx0), fx(bx1)], [fy(45.5), fy(45.5)],
                                  color='#333333', lw=0.9))
        for bx in (bx0, bx1):
            fig.add_artist(plt.Line2D([fx(bx), fx(bx)], [fy(42), fy(49)],
                                      color='#333333', lw=0.9))
        fig.text(fx((bx0 + bx1) / 2), fy(38.5), '15 kb', fontsize=6, ha='center',
                 va='center', color='#333333')

    fig.text(fx(131), fy(57.5), 'TEL', fontsize=10.5, weight='bold', ha='left', va='center')
    fig.text(fx(399), fy(57.5), 'CEN \u27f6', fontsize=10.5, weight='bold', ha='right', va='center')
    fig.text(fx(484), fy(57.5), '\u27f5 CEN', fontsize=10.5, weight='bold', ha='left', va='center')
    fig.text(fx(752), fy(57.5), 'TEL', fontsize=10.5, weight='bold', ha='right', va='center')

    fig.savefig('out.png', dpi=100)
